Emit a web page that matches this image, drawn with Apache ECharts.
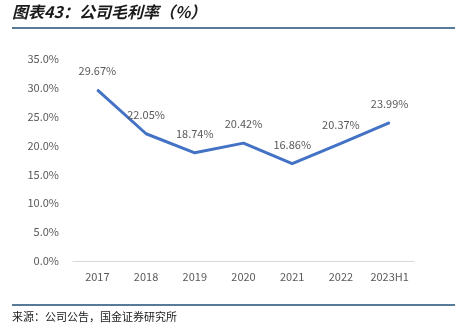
<!DOCTYPE html>
<html><head><meta charset="utf-8">
<script src="https://cdn.jsdelivr.net/npm/echarts@6/dist/echarts.min.js"></script>
<style>html,body{margin:0;padding:0;background:#fff;}#c{width:455px;height:333px;}</style>
</head><body><div id="c"></div>
<script>
const categories = ['2017','2018','2019','2020','2021','2022','2023H1'];
const grossMargin = [29.67, 22.05, 18.74, 20.42, 16.86, 20.37, 23.99];
const yTicks = [0, 5, 10, 15, 20, 25, 30, 35];

const chart = echarts.init(document.getElementById('c'), null, {renderer:'canvas'});
chart.setOption({
  animation:false,
  backgroundColor:'#fff',
  graphic:[
    {type:'text', left:12, top:4, style:{text:'图表43：公司毛利率（%）', font:'italic bold 16px "Noto Sans CJK SC"', fill:'#1a1a1a'}},
    {type:'line', shape:{x1:12,y1:28,x2:455,y2:28}, style:{stroke:'#1F4E79', lineWidth:1.5}},
    {type:'line', shape:{x1:12,y1:305,x2:455,y2:305}, style:{stroke:'#1F4E79', lineWidth:1.5}},
    {type:'text', left:12, top:311, style:{text:'来源：公司公告，国金证券研究所', font:'11px "Noto Sans CJK SC"', fill:'#1a1a1a'}}
  ],
  grid:{left:73, right:41, top:59, bottom:72},
  xAxis:{type:'category', data:categories, boundaryGap:true,
    axisLine:{lineStyle:{color:'#d9d9d9'}}, axisTick:{show:false},
    axisLabel:{color:'#595959', fontSize:11, margin:10, interval:0, fontFamily:'"Noto Sans CJK SC"'}},
  yAxis:{type:'value', min:yTicks[0], max:yTicks[yTicks.length-1], interval:5,
    splitLine:{show:false}, axisLine:{show:false}, axisTick:{show:false},
    axisLabel:{color:'#595959', fontSize:11, margin:14, fontFamily:'"Noto Sans CJK SC"',
      formatter:v=>v.toFixed(1)+'%'}},
  series:[{type:'line', data:grossMargin, symbol:'circle', symbolSize:1, showSymbol:true,
    itemStyle:{color:'#4472C4'},
    lineStyle:{color:'#4472C4', width:3},
    labelLayout:{hideOverlap:false},
    label:{show:true, position:'top', distance:13, opacity:1, color:'#595959', fontSize:11, fontFamily:'"Noto Sans CJK SC"',
      formatter:p=>p.value.toFixed(2)+'%'}}]
});
</script></body></html>
